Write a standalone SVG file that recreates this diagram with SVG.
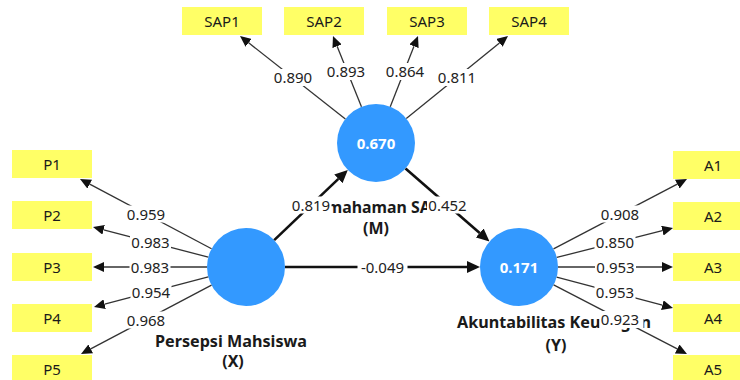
<svg xmlns="http://www.w3.org/2000/svg" width="740" height="380" viewBox="0 0 740 380">
<style>
.box{fill:#ffff66}
.bt{font-family:"Noto Sans","Open Sans",sans-serif;font-size:15px;fill:#1a1a1a;text-anchor:middle}
.lv{fill:#3399ff}
.cv{font-family:"Noto Sans","Open Sans",sans-serif;font-size:15px;font-weight:bold;fill:#ffffff;text-anchor:middle}
.nl{font-family:"Noto Sans","Open Sans",sans-serif;font-size:16px;font-weight:bold;fill:#1a1a1a;text-anchor:middle}
.ind{stroke:#333;stroke-width:1.3;fill:none}
.str{stroke:#111;stroke-width:2.6;fill:none}
.lb{fill:#ffffff}
.lt{font-family:"Noto Sans","Open Sans",sans-serif;font-size:15px;fill:#222;text-anchor:middle}
</style>
<defs>
<marker id="ah" markerUnits="userSpaceOnUse" viewBox="0 0 11 10" refX="0" refY="5" markerWidth="11" markerHeight="10" orient="auto"><path d="M0,0 L11,5 L0,10 z" fill="#111"/></marker>
<marker id="ahs" markerUnits="userSpaceOnUse" viewBox="0 0 13 12" refX="0" refY="6" markerWidth="13" markerHeight="12" orient="auto"><path d="M0,0 L13,6 L0,12 z" fill="#111"/></marker>
</defs>
<rect width="740" height="380" fill="#ffffff"/>

<g id="SAP1"><rect class="box" x="182" y="7" width="80" height="28"/><text class="bt" x="222" y="26.5">SAP1</text></g>
<g id="SAP2"><rect class="box" x="284" y="7" width="80" height="28"/><text class="bt" x="324" y="26.5">SAP2</text></g>
<g id="SAP3"><rect class="box" x="387" y="7" width="80" height="28"/><text class="bt" x="427" y="26.5">SAP3</text></g>
<g id="SAP4"><rect class="box" x="489" y="7" width="80" height="28"/><text class="bt" x="529" y="26.5">SAP4</text></g>

<g id="P1"><rect class="box" x="12" y="150" width="80" height="28"/><text class="bt" x="52" y="169.5">P1</text></g>
<g id="P2"><rect class="box" x="12" y="201" width="80" height="28"/><text class="bt" x="52" y="220.5">P2</text></g>
<g id="P3"><rect class="box" x="12" y="253" width="80" height="28"/><text class="bt" x="52" y="272.5">P3</text></g>
<g id="P4"><rect class="box" x="12" y="304" width="80" height="28"/><text class="bt" x="52" y="323.5">P4</text></g>
<g id="P5"><rect class="box" x="12" y="355" width="80" height="28"/><text class="bt" x="52" y="374.5">P5</text></g>

<g id="A1"><rect class="box" x="673" y="151" width="80" height="28"/><text class="bt" x="713" y="170.5">A1</text></g>
<g id="A2"><rect class="box" x="673" y="202" width="80" height="28"/><text class="bt" x="713" y="221.5">A2</text></g>
<g id="A3"><rect class="box" x="673" y="253" width="80" height="28"/><text class="bt" x="713" y="272.5">A3</text></g>
<g id="A4"><rect class="box" x="673" y="304" width="80" height="28"/><text class="bt" x="713" y="323.5">A4</text></g>
<g id="A5"><rect class="box" x="673" y="355" width="80" height="28"/><text class="bt" x="713" y="374.5">A5</text></g>

<g id="M">
<circle class="lv" cx="376" cy="143" r="39"/>
<text class="cv" x="376" y="148.5">0.670</text>
<text class="nl" x="374" y="212.5" textLength="133" lengthAdjust="spacingAndGlyphs">Pemahaman SAP</text>
<text class="nl" x="376" y="233.5">(M)</text>
</g>
<g id="X">
<circle class="lv" cx="246" cy="267" r="39"/>
<text class="nl" x="231" y="347" textLength="152" lengthAdjust="spacingAndGlyphs">Persepsi Mahsiswa</text>
<text class="nl" x="233" y="367">(X)</text>
</g>
<g id="Y">
<circle class="lv" cx="519" cy="267" r="39"/>
<text class="cv" x="519" y="272.5">0.171</text>
<text class="nl" x="554" y="328" textLength="194" lengthAdjust="spacingAndGlyphs">Akuntabilitas Keuangan</text>
<text class="nl" x="556" y="351">(Y)</text>
</g>

<g id="connectors">
<line class="ind" x1="345.35" y1="118.89" x2="248.64" y2="42.80" marker-end="url(#ah)"/>
<line class="ind" x1="361.46" y1="106.81" x2="337.10" y2="46.21" marker-end="url(#ah)"/>
<line class="ind" x1="390.25" y1="106.70" x2="413.98" y2="46.24" marker-end="url(#ah)"/>
<line class="ind" x1="406.30" y1="118.44" x2="499.46" y2="42.93" marker-end="url(#ah)"/>

<line class="ind" x1="211.54" y1="248.73" x2="89.72" y2="184.15" marker-end="url(#ah)"/>
<line class="ind" x1="208.27" y1="257.14" x2="103.64" y2="229.78" marker-end="url(#ah)"/>
<line class="ind" x1="207" y1="267" x2="104" y2="267" marker-end="url(#ah)"/>
<line class="ind" x1="208.28" y1="276.93" x2="104.64" y2="304.20" marker-end="url(#ah)"/>
<line class="ind" x1="211.50" y1="285.19" x2="90.73" y2="348.87" marker-end="url(#ah)"/>

<line class="ind" x1="553.55" y1="248.90" x2="677.26" y2="184.10" marker-end="url(#ah)"/>
<line class="ind" x1="556.81" y1="257.43" x2="662.34" y2="230.70" marker-end="url(#ah)"/>
<line class="ind" x1="558" y1="267" x2="662" y2="267" marker-end="url(#ah)"/>
<line class="ind" x1="556.69" y1="277.03" x2="662.37" y2="305.17" marker-end="url(#ah)"/>
<line class="ind" x1="553.63" y1="284.94" x2="677.23" y2="348.94" marker-end="url(#ah)"/>

<line class="str" x1="274.2" y1="240.1" x2="338.39" y2="178.87" marker-end="url(#ahs)"/>
<line class="str" x1="405.5" y1="168.5" x2="479.68" y2="232.98" marker-end="url(#ahs)"/>
<line class="str" x1="285" y1="267" x2="467" y2="267" marker-end="url(#ahs)"/>

<rect class="lb" x="272.5" y="69" width="41" height="17"/><text class="lt" x="293" y="83">0.890</text>
<rect class="lb" x="325.5" y="63" width="41" height="17"/><text class="lt" x="346" y="77">0.893</text>
<rect class="lb" x="384.5" y="63" width="41" height="17"/><text class="lt" x="405" y="77">0.864</text>
<rect class="lb" x="436.5" y="69" width="41" height="17"/><text class="lt" x="457" y="83">0.811</text>

<rect class="lb" x="125.5" y="205.5" width="41" height="17"/><text class="lt" x="146" y="219.5">0.959</text>
<rect class="lb" x="130" y="233.5" width="41" height="17"/><text class="lt" x="150.5" y="247.5">0.983</text>
<rect class="lb" x="129.5" y="258.5" width="41" height="17"/><text class="lt" x="150" y="272.5">0.983</text>
<rect class="lb" x="130.5" y="284" width="41" height="17"/><text class="lt" x="151" y="298">0.954</text>
<rect class="lb" x="125.5" y="311.5" width="41" height="17"/><text class="lt" x="146" y="325.5">0.968</text>

<rect class="lb" x="599.5" y="205.5" width="41" height="17"/><text class="lt" x="620" y="219.5">0.908</text>
<rect class="lb" x="594.5" y="234" width="41" height="17"/><text class="lt" x="615" y="248">0.850</text>
<rect class="lb" x="595" y="258.5" width="41" height="17"/><text class="lt" x="615.5" y="272.5">0.953</text>
<rect class="lb" x="594.5" y="284" width="41" height="17"/><text class="lt" x="615" y="298">0.953</text>
<rect class="lb" x="599.5" y="311" width="44" height="17"/><text class="lt" x="620" y="325">0.923</text>

<rect class="lb" x="290.5" y="196.5" width="41" height="17"/><text class="lt" x="311" y="210.5">0.819</text>
<rect class="lb" x="427" y="196.5" width="41" height="17"/><text class="lt" x="447.5" y="210.5">0.452</text>
<rect class="lb" x="357.5" y="258.5" width="50" height="17"/><text class="lt" x="382.5" y="272.5">-0.049</text>
</g>
</svg>
